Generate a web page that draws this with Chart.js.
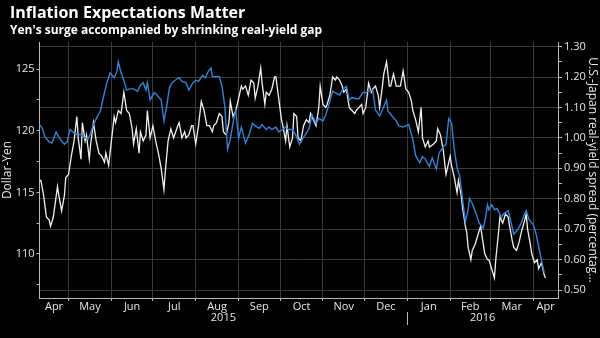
<!DOCTYPE html>
<html>
<head>
<meta charset="utf-8">
<script src="https://cdn.jsdelivr.net/npm/chart.js@4"></script>
<style>
  html, body { margin: 0; padding: 0; background: #000; }
  #chart { display: block; }
</style>
</head>
<body>
<canvas id="chart" width="600" height="338"></canvas>
<script>
// Dollar-Yen (left axis, blue)
const yenDates = ['2015-04-10','2015-04-12','2015-04-14','2015-04-17','2015-04-19','2015-04-22','2015-04-25','2015-04-28','2015-04-30',
  '2015-05-02','2015-05-05','2015-05-07','2015-05-10','2015-05-12','2015-05-15','2015-05-17','2015-05-19','2015-05-22','2015-05-24','2015-05-27','2015-05-29','2015-05-31',
  '2015-06-03','2015-06-05','2015-06-06','2015-06-08','2015-06-10','2015-06-12','2015-06-14','2015-06-17','2015-06-20','2015-06-22','2015-06-24','2015-06-26','2015-06-27','2015-06-29',
  '2015-07-02','2015-07-04','2015-07-07','2015-07-09','2015-07-11','2015-07-13','2015-07-15','2015-07-17','2015-07-20','2015-07-22','2015-07-25','2015-07-27','2015-07-30',
  '2015-08-01','2015-08-03','2015-08-06','2015-08-08','2015-08-10','2015-08-12','2015-08-13','2015-08-15','2015-08-18','2015-08-20','2015-08-22','2015-08-24','2015-08-26','2015-08-29','2015-08-30',
  '2015-09-01','2015-09-03','2015-09-06','2015-09-09','2015-09-11','2015-09-13','2015-09-16','2015-09-18','2015-09-21','2015-09-23','2015-09-25','2015-09-28','2015-09-30',
  '2015-10-03','2015-10-05','2015-10-07','2015-10-10','2015-10-13','2015-10-15','2015-10-17','2015-10-20','2015-10-22','2015-10-24','2015-10-27','2015-10-29',
  '2015-11-01','2015-11-03','2015-11-05','2015-11-08','2015-11-10','2015-11-13','2015-11-15','2015-11-18','2015-11-20','2015-11-22','2015-11-25','2015-11-27','2015-11-30',
  '2015-12-02','2015-12-04','2015-12-07','2015-12-09','2015-12-12','2015-12-14','2015-12-17','2015-12-18','2015-12-21','2015-12-24','2015-12-26','2015-12-29','2015-12-31',
  '2016-01-02','2016-01-05','2016-01-07','2016-01-10','2016-01-12','2016-01-14','2016-01-17','2016-01-19','2016-01-22','2016-01-24','2016-01-27','2016-01-29','2016-01-31',
  '2016-02-02','2016-02-04','2016-02-06','2016-02-08','2016-02-10','2016-02-12','2016-02-14','2016-02-15','2016-02-17','2016-02-20','2016-02-22','2016-02-25','2016-02-27','2016-02-28','2016-02-29',
  '2016-03-02','2016-03-04','2016-03-06','2016-03-09','2016-03-11','2016-03-14','2016-03-16','2016-03-18','2016-03-21','2016-03-23','2016-03-26','2016-03-27','2016-03-29',
  '2016-04-01','2016-04-03','2016-04-05','2016-04-08','2016-04-09'];
const yenValues = [120.5,120.2,119.5,119.1,119.0,119.9,119.3,118.9,119.1,
  120.1,119.8,119.7,119.7,119.5,119.3,119.8,120.5,121.2,121.6,123.1,124.0,124.7,
  124.3,124.8,125.6,124.7,124.1,123.3,123.4,123.4,123.2,123.7,123.9,123.3,123.9,122.5,
  123.1,122.9,122.5,120.8,122.0,123.5,123.9,124.1,124.3,124.0,123.9,123.3,123.9,
  124.1,124.0,124.5,124.3,124.8,125.1,124.4,124.4,124.4,123.6,122.0,118.5,119.3,121.3,121.6,
  119.4,120.3,119.0,119.8,120.6,120.4,120.2,120.5,120.1,120.3,120.1,120.3,119.9,
  120.1,120.3,120.1,120.1,119.5,118.9,119.3,119.8,120.2,121.3,120.6,121.0,
  120.8,121.3,122.0,123.2,123.1,122.9,123.3,123.6,122.5,122.7,122.6,122.6,123.1,
  123.1,123.2,123.3,121.7,121.2,121.7,122.5,121.6,121.2,120.8,120.4,120.3,120.4,
  120.5,119.3,118.0,117.4,117.9,117.7,117.1,117.8,116.9,118.2,118.7,118.9,121.0,
  120.6,118.5,117.0,116.3,114.4,112.6,113.6,114.5,114.1,113.2,112.5,112.1,113.2,114.0,113.6,
  114.0,113.6,113.7,113.0,113.3,113.5,112.6,111.6,112.0,112.4,113.3,113.5,112.8,
  112.4,111.7,110.6,109.0,108.5];

// U.S.-Japan real-yield spread (right axis, white)
const spreadDates = ['2015-04-10','2015-04-11','2015-04-13','2015-04-15','2015-04-17','2015-04-18','2015-04-20','2015-04-23','2015-04-24','2015-04-26','2015-04-28','2015-04-29',
  '2015-05-01','2015-05-03','2015-05-05','2015-05-07','2015-05-08','2015-05-10','2015-05-11','2015-05-13','2015-05-14','2015-05-16','2015-05-17','2015-05-19','2015-05-21','2015-05-23','2015-05-25','2015-05-27','2015-05-28','2015-05-30',
  '2015-06-01','2015-06-03','2015-06-04','2015-06-06','2015-06-08','2015-06-10','2015-06-12','2015-06-14','2015-06-16','2015-06-17','2015-06-19','2015-06-21','2015-06-22','2015-06-24','2015-06-26','2015-06-27','2015-06-29',
  '2015-07-01','2015-07-03','2015-07-05','2015-07-07','2015-07-09','2015-07-10','2015-07-12','2015-07-14','2015-07-16','2015-07-19','2015-07-20','2015-07-22','2015-07-24','2015-07-25','2015-07-27','2015-07-29','2015-07-30',
  '2015-08-01','2015-08-03','2015-08-05','2015-08-07','2015-08-09','2015-08-11','2015-08-13','2015-08-14','2015-08-16','2015-08-18','2015-08-20','2015-08-21','2015-08-23','2015-08-25','2015-08-26','2015-08-28','2015-08-30',
  '2015-09-01','2015-09-03','2015-09-04','2015-09-06','2015-09-08','2015-09-10','2015-09-12','2015-09-13','2015-09-15','2015-09-17','2015-09-18','2015-09-20','2015-09-21','2015-09-23','2015-09-25','2015-09-27','2015-09-28','2015-09-30',
  '2015-10-02','2015-10-03','2015-10-05','2015-10-06','2015-10-08','2015-10-10','2015-10-11','2015-10-13','2015-10-14','2015-10-16','2015-10-18','2015-10-20','2015-10-22','2015-10-23','2015-10-25','2015-10-27','2015-10-29','2015-10-30',
  '2015-11-01','2015-11-03','2015-11-04','2015-11-06','2015-11-08','2015-11-10','2015-11-11','2015-11-13','2015-11-15','2015-11-16','2015-11-18','2015-11-20','2015-11-22','2015-11-24','2015-11-25','2015-11-27','2015-11-29','2015-11-30',
  '2015-12-02','2015-12-04','2015-12-06','2015-12-07','2015-12-09','2015-12-11','2015-12-12','2015-12-14','2015-12-15','2015-12-17','2015-12-19','2015-12-20','2015-12-22','2015-12-24','2015-12-26','2015-12-27','2015-12-29','2015-12-31',
  '2016-01-02','2016-01-04','2016-01-05','2016-01-07','2016-01-09','2016-01-10','2016-01-11','2016-01-12','2016-01-14','2016-01-16','2016-01-17','2016-01-20','2016-01-22','2016-01-23','2016-01-25','2016-01-27','2016-01-29','2016-01-30',
  '2016-02-01','2016-02-02','2016-02-04','2016-02-06','2016-02-07','2016-02-09','2016-02-10','2016-02-12','2016-02-13','2016-02-14','2016-02-16','2016-02-17','2016-02-19','2016-02-21','2016-02-23','2016-02-24','2016-02-26','2016-02-28','2016-02-29',
  '2016-03-02','2016-03-04','2016-03-05','2016-03-07','2016-03-08','2016-03-10','2016-03-12','2016-03-14','2016-03-15','2016-03-17','2016-03-18','2016-03-20','2016-03-22','2016-03-24','2016-03-26','2016-03-27','2016-03-28','2016-03-30','2016-03-31',
  '2016-04-02','2016-04-04','2016-04-05','2016-04-07','2016-04-09','2016-04-10'];
const spreadValues = [0.86,0.86,0.81,0.74,0.73,0.71,0.74,0.84,0.81,0.76,0.81,0.87,
  0.88,0.94,0.99,1.07,1.00,0.93,1.05,0.99,1.01,0.93,0.98,1.05,0.99,0.95,0.94,0.92,0.95,0.91,
  0.99,1.07,1.05,1.09,1.08,1.15,1.09,1.08,1.03,0.98,1.03,0.95,1.02,0.99,1.01,1.09,1.00,
  1.04,0.99,0.95,0.90,0.83,0.89,0.99,1.03,1.00,1.04,1.05,1.00,1.02,1.00,1.01,1.04,1.04,
  0.98,1.04,1.12,1.09,1.04,1.04,1.02,1.04,1.05,1.08,1.07,1.02,1.01,1.05,1.12,1.07,1.09,
  1.13,1.17,1.16,1.17,1.14,1.19,1.18,1.13,1.17,1.23,1.18,1.11,1.15,1.14,1.16,1.20,1.20,1.13,
  1.06,1.04,0.99,1.04,0.97,1.00,1.08,1.07,1.00,0.99,1.04,1.06,1.05,1.08,1.06,1.04,1.10,1.17,
  1.11,1.10,1.11,1.14,1.20,1.19,1.20,1.19,1.17,1.15,1.16,1.10,1.09,1.08,1.09,1.10,1.11,1.08,
  1.10,1.18,1.15,1.16,1.17,1.14,1.10,1.17,1.21,1.25,1.17,1.17,1.21,1.17,1.17,1.17,1.22,1.16,
  1.15,1.12,1.09,1.06,1.02,1.06,1.10,1.00,0.97,0.99,0.97,0.98,0.99,1.03,1.01,0.96,0.88,0.90,
  0.94,0.91,0.87,0.82,0.86,0.81,0.77,0.71,0.69,0.64,0.60,0.63,0.65,0.68,0.71,0.68,0.62,0.60,0.60,
  0.57,0.54,0.60,0.69,0.74,0.72,0.75,0.74,0.71,0.66,0.64,0.63,0.66,0.70,0.73,0.75,0.70,0.65,0.62,
  0.59,0.60,0.57,0.59,0.55,0.54];

// axes
const monthStarts = ['2015-04-01','2015-05-01','2015-06-01','2015-07-01','2015-08-01','2015-09-01','2015-10-01',
  '2015-11-01','2015-12-01','2016-01-01','2016-02-01','2016-03-01','2016-04-01'];
const monthLabels = ['Apr','May','Jun','Jul','Aug','Sep','Oct','Nov','Dec','Jan','Feb','Mar','Apr'];
const yearStarts = ['2015-01-01','2016-01-01','2017-01-01'];
const yearLabels = ['2015','2016'];
const axisStart = '2015-04-10';
const axisEnd = '2016-04-19';
const yenTicks = [107.5,110,112.5,115,117.5,120,122.5,125];
const spreadTicks = [0.50,0.55,0.60,0.65,0.70,0.75,0.80,0.85,0.90,0.95,1.00,1.05,1.10,1.15,1.20,1.25,1.30];

const FONT = "'Open Sans', sans-serif";
const TEXT = '#e6e6e6';
const AXIS = '#b8b8b8';
const GRID = '#3a3a3a';

const t0 = Date.parse('2015-04-01');
const toDay = s => (Date.parse(s) - t0) / 864e5;
const xMin = toDay(axisStart), xMax = toDay(axisEnd);

// month boundaries get a gridline, month middles get the label
let xTicks = [];
monthStarts.forEach((m, i) => {
  const start = toDay(m);
  const next = i + 1 < monthStarts.length ? toDay(monthStarts[i + 1]) : xMax;
  if (start > xMin) xTicks.push({ value: start, label: '', isStart: true });
  const a = Math.max(start, xMin), b = Math.min(next, xMax);
  xTicks.push({ value: (a + b) / 2, label: monthLabels[i], isStart: false });
});
xTicks.sort((a, b) => a.value - b.value);

const yearRow = {
  id: 'yearRow',
  afterDraw(chart) {
    const sx = chart.scales.x, ctx = chart.ctx;
    ctx.save();
    // title + subtitle
    ctx.fillStyle = '#fff';
    ctx.textAlign = 'left';
    ctx.textBaseline = 'middle';
    ctx.font = 'bold 16px ' + FONT;
    ctx.fillText('Inflation Expectations Matter', 10, 13);
    ctx.font = 'bold 12px ' + FONT;
    ctx.fillText("Yen's surge accompanied by shrinking real-yield gap", 10, 31);
    // years under the months
    ctx.fillStyle = TEXT;
    ctx.textAlign = 'center';
    ctx.font = '11px ' + FONT;
    yearLabels.forEach((y, i) => {
      const a = Math.max(toDay(yearStarts[i]), xMin);
      const b = Math.min(toDay(yearStarts[i + 1]), xMax);
      ctx.fillText(y, sx.getPixelForValue((a + b) / 2), sx.top + 20);
    });
    ctx.strokeStyle = AXIS;
    ctx.lineWidth = 1;
    yearStarts.forEach(s => {
      const d = toDay(s);
      if (d <= xMin || d >= xMax) return;
      const px = Math.round(sx.getPixelForValue(d)) + 0.5;
      ctx.beginPath();
      ctx.moveTo(px, sx.top + 14);
      ctx.lineTo(px, sx.top + 27);
      ctx.stroke();
    });
    ctx.restore();
  }
};

new Chart(document.getElementById('chart'), {
  type: 'line',
  data: {
    datasets: [
      {
        label: 'Dollar-Yen',
        data: yenDates.map((d, i) => ({ x: toDay(d), y: yenValues[i] })),
        yAxisID: 'y',
        borderColor: '#3282d8',
        borderWidth: 1.4,
        pointRadius: 0,
        tension: 0
      },
      {
        label: 'U.S.-Japan real-yield spread',
        data: spreadDates.map((d, i) => ({ x: toDay(d), y: spreadValues[i] })),
        yAxisID: 'y1',
        borderColor: '#f0f0f0',
        borderWidth: 1.3,
        pointRadius: 0,
        tension: 0
      }
    ]
  },
  options: {
    responsive: false,
    animation: false,
    events: [],
    layout: { padding: { top: 42, left: 0, right: 0, bottom: 0 } },
    plugins: { legend: { display: false }, tooltip: { enabled: false } },
    scales: {
      x: {
        type: 'linear',
        min: xMin,
        max: xMax,
        afterBuildTicks: s => { s.ticks = xTicks.map(t => ({ value: t.value })); },
        afterFit: s => { s.height = 40; },
        ticks: {
          autoSkip: false, maxRotation: 0, padding: 0, color: TEXT,
          font: { family: FONT, size: 11, lineHeight: 1 },
          callback: (v, i) => xTicks[i].label
        },
        grid: {
          color: c => (xTicks[c.index] && xTicks[c.index].isStart) ? GRID : 'transparent',
          tickColor: c => (xTicks[c.index] && xTicks[c.index].isStart) ? AXIS : 'transparent',
          tickLength: 3
        },
        border: { color: AXIS }
      },
      y: {
        position: 'left',
        min: 106.43,
        max: 127.2,
        afterBuildTicks: s => { s.ticks = yenTicks.map(v => ({ value: v })); },
        afterFit: s => { s.width = 39.5; },
        ticks: {
          autoSkip: false, padding: 2, color: TEXT,
          font: { family: FONT, size: 11 },
          callback: v => (v % 5 === 0 ? String(v) : '')
        },
        grid: { drawOnChartArea: false, tickColor: AXIS, tickLength: 3 },
        border: { color: AXIS },
        title: { display: true, text: 'Dollar-Yen', color: TEXT, padding: 0, font: { family: FONT, size: 12 } }
      },
      y1: {
        position: 'right',
        min: 0.474,
        max: 1.315,
        afterBuildTicks: s => { s.ticks = spreadTicks.map(v => ({ value: v })); },
        afterFit: s => { s.width = 42; },
        ticks: {
          autoSkip: false, padding: 2, color: TEXT,
          font: { family: FONT, size: 11 },
          callback: v => (Math.round(v * 100) % 10 === 0 ? v.toFixed(2) : '')
        },
        grid: {
          color: c => (c.tick && Math.round(c.tick.value * 100) % 10 === 0) ? GRID : 'transparent',
          tickColor: AXIS,
          tickLength: 4
        },
        border: { color: AXIS },
        title: { display: true, text: 'U.S.-Japan real-yield spread (percentag...', color: TEXT, padding: 0, font: { family: FONT, size: 12 } }
      }
    }
  },
  plugins: [yearRow]
});
</script>
</body>
</html>
